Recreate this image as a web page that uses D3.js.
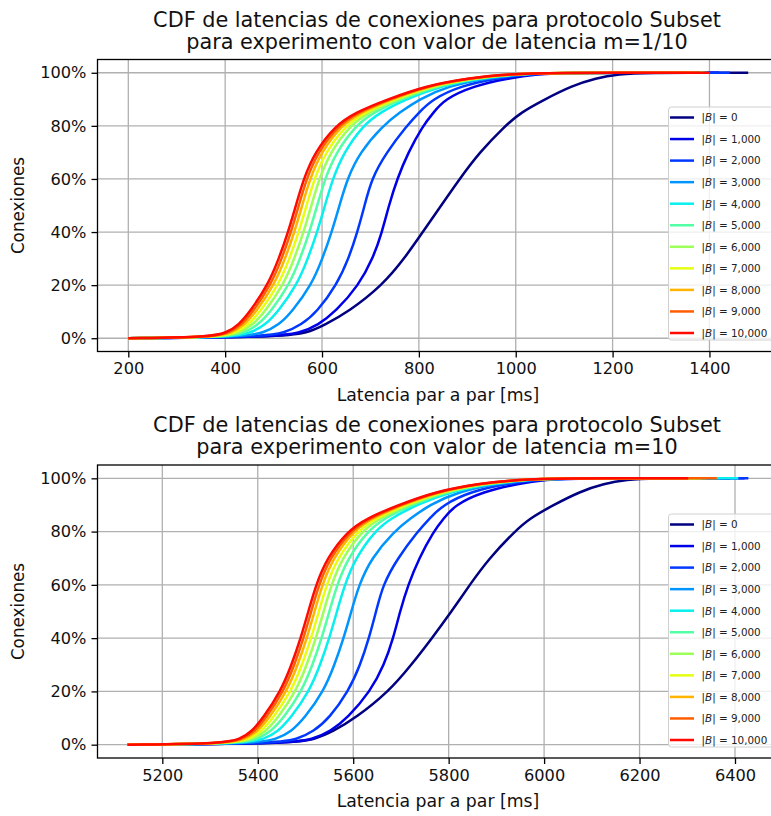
<!DOCTYPE html>
<html>
<head>
<meta charset="utf-8">
<script src="https://cdn.jsdelivr.net/npm/d3@7"></script>
<style>
  body { margin: 0; background: #fff; }
  svg { font-family: "DejaVu Sans", sans-serif; display: block; }
</style>
</head>
<body>
<div id="chart"></div>
<script>
// |B| values, one curve each
const bLabels = ["0", "1,000", "2,000", "3,000", "4,000", "5,000", "6,000", "7,000", "8,000", "9,000", "10,000"];
const lineColors = ["#000080", "#0000e8", "#0038ff", "#0094ff", "#08f0ee", "#52ffa4",
                    "#9cff5a", "#e6ff10", "#ffb400", "#ff5e00", "#ff0900"];

// CDF levels at which the latency of each curve was read
const cdfLevels = [0, 0.005, 0.02, 0.05, 0.1, 0.2, 0.3, 0.4, 0.5, 0.6, 0.7, 0.8, 0.85, 0.9, 0.95, 0.98, 0.995, 1];
const yTicks = [0, 0.2, 0.4, 0.6, 0.8, 1];

// m = 1/10
const xTicksTop = [200, 400, 600, 800, 1000, 1200, 1400];
const latencyTop = [
  [200, 515, 570, 605, 655, 725, 770, 808, 846, 884, 925, 978, 1010, 1060, 1115, 1165, 1215, 1260],
  [200, 505, 555, 592, 628, 676, 705, 724, 738, 755, 778, 808, 830, 853, 912, 986, 1047, 1098],
  [200, 478, 522, 557, 590, 630, 655, 673, 688, 702, 733, 775, 800, 828, 885, 962, 1031, 1088],
  [200, 438, 479, 511, 538, 578, 601, 620, 636, 652, 678, 725, 760, 800, 860, 941, 1017, 1078],
  [200, 415, 453, 483, 509, 548, 571, 590, 606, 622, 645, 684, 719, 772, 844, 927, 1008, 1072],
  [200, 403, 439, 468, 494, 532, 555, 574, 590, 606, 629, 669, 705, 762, 836, 920, 1003, 1069],
  [200, 394, 429, 457, 482, 520, 543, 562, 578, 594, 617, 657, 695, 755, 830, 914, 1000, 1066],
  [200, 386, 421, 448, 472, 510, 533, 552, 568, 584, 607, 648, 687, 749, 824, 910, 997, 1064],
  [200, 380, 413, 440, 464, 501, 524, 543, 559, 575, 598, 639, 679, 743, 820, 906, 994, 1063],
  [200, 374, 407, 434, 457, 494, 517, 536, 552, 568, 591, 633, 673, 739, 816, 903, 992, 1061],
  [200, 370, 402, 428, 451, 488, 511, 530, 546, 562, 585, 627, 668, 735, 813, 900, 990, 1060]
];
const lastTop = [1480, 1420, 1442, 1400, 1395, 1385, 1370, 1390, 1360, 1380, 1400];

// m = 10
const xTicksBottom = [5200, 5400, 5600, 5800, 6000, 6200, 6400];
const latencyBottom = [
  [5127, 5470, 5520, 5558, 5605, 5675, 5722, 5765, 5806, 5844, 5885, 5938, 5970, 6020, 6075, 6125, 6175, 6220],
  [5127, 5465, 5515, 5552, 5588, 5636, 5665, 5684, 5698, 5715, 5738, 5768, 5790, 5813, 5872, 5946, 6007, 6058],
  [5127, 5438, 5482, 5517, 5550, 5590, 5615, 5633, 5648, 5662, 5693, 5735, 5760, 5788, 5845, 5922, 5991, 6048],
  [5127, 5398, 5439, 5471, 5498, 5538, 5561, 5580, 5596, 5612, 5638, 5685, 5720, 5760, 5820, 5901, 5977, 6038],
  [5127, 5375, 5413, 5443, 5469, 5508, 5531, 5550, 5566, 5582, 5605, 5644, 5679, 5732, 5804, 5887, 5968, 6032],
  [5127, 5363, 5399, 5428, 5454, 5492, 5515, 5534, 5550, 5566, 5589, 5629, 5665, 5722, 5796, 5880, 5963, 6029],
  [5127, 5354, 5389, 5417, 5442, 5480, 5503, 5522, 5538, 5554, 5577, 5617, 5655, 5715, 5790, 5874, 5960, 6026],
  [5127, 5346, 5381, 5408, 5432, 5470, 5493, 5512, 5528, 5544, 5567, 5608, 5647, 5709, 5784, 5870, 5957, 6024],
  [5127, 5340, 5373, 5400, 5424, 5461, 5484, 5503, 5519, 5535, 5558, 5599, 5639, 5703, 5780, 5866, 5954, 6023],
  [5127, 5334, 5367, 5394, 5417, 5454, 5477, 5496, 5512, 5528, 5551, 5593, 5633, 5699, 5776, 5863, 5952, 6021],
  [5127, 5330, 5362, 5388, 5411, 5448, 5471, 5490, 5506, 5522, 5545, 5587, 5628, 5695, 5773, 5860, 5950, 6020]
];
const lastBottom = [6390, 6420, 6428, 6370, 6407, 6340, 6320, 6330, 6300, 6362, 6302];

const width = 771, height = 816;

const svg = d3.select("#chart")
    .append("svg")
    .attr("width", width)
    .attr("height", height);

function drawPanel(p) {
    const x = d3.scaleLinear().domain(p.xDomain).range([97.5, 779]);
    const y = d3.scaleLinear().domain([-0.05, 1.05]).range([p.bottom, p.top]);
    const g = svg.append("g");

    const clipId = "clip" + p.id;
    g.append("clipPath").attr("id", clipId)
      .append("rect")
        .attr("x", 97.5).attr("y", p.top)
        .attr("width", 779 - 97.5).attr("height", p.bottom - p.top);

    // grid
    g.append("g")
        .selectAll("line")
        .data(p.xTicks)
        .enter().append("line")
        .attr("x1", d => x(d)).attr("x2", d => x(d))
        .attr("y1", p.top).attr("y2", p.bottom)
        .attr("stroke", "#b0b0b0")
        .attr("stroke-width", 1.3);
    g.append("g")
        .selectAll("line")
        .data(yTicks)
        .enter().append("line")
        .attr("x1", 97.5).attr("x2", 779)
        .attr("y1", d => y(d)).attr("y2", d => y(d))
        .attr("stroke", "#b0b0b0")
        .attr("stroke-width", 1.3);

    // curves
    const line = d3.line()
        .x(d => x(d[0]))
        .y(d => y(d[1]))
        .curve(d3.curveBasis);

    const series = p.rows.map((row, i) => {
        const pts = row.map((v, j) => [v, cdfLevels[j]]);
        pts.push([p.last[i], 1]);
        return pts;
    });

    g.append("g")
        .attr("clip-path", `url(#${clipId})`)
        .selectAll("path")
        .data(series)
        .enter().append("path")
        .attr("d", line)
        .attr("fill", "none")
        .attr("stroke", (d, i) => lineColors[i])
        .attr("stroke-width", 2.5);

    // axes
    const xAxis = g.append("g")
        .attr("transform", `translate(0,${p.bottom})`)
        .call(d3.axisBottom(x).tickValues(p.xTicks).tickFormat(d3.format("d")).tickSizeOuter(0).tickSize(6).tickPadding(5));
    const yAxis = g.append("g")
        .attr("transform", "translate(97.5,0)")
        .call(d3.axisLeft(y).tickValues(yTicks).tickFormat(d3.format(".0%")).tickSizeOuter(0).tickSize(6).tickPadding(5));
    [xAxis, yAxis].forEach(a => {
        a.select(".domain").remove();
        a.selectAll("line").attr("stroke", "#000").attr("stroke-width", 1.3);
        a.selectAll("text")
            .attr("fill", "#111")
            .style("font-size", "16.2px")
            .style("font-family", "DejaVu Sans");
    });

    // frame
    g.append("rect")
        .attr("x", 97.5).attr("y", p.top)
        .attr("width", 779 - 97.5).attr("height", p.bottom - p.top)
        .attr("fill", "none")
        .attr("stroke", "#000")
        .attr("stroke-width", 1.3);

    // labels
    g.append("text")
        .attr("x", 438).attr("y", p.bottom + 49)
        .attr("text-anchor", "middle")
        .attr("fill", "#111")
        .style("font-size", "17.3px")
        .text("Latencia par a par [ms]");
    g.append("text")
        .attr("transform", `translate(24,${(p.top + p.bottom) / 2}) rotate(-90)`)
        .attr("text-anchor", "middle")
        .attr("fill", "#111")
        .style("font-size", "16.8px")
        .text("Conexiones");

    const title = g.append("text")
        .attr("text-anchor", "middle")
        .attr("fill", "#111")
        .style("font-size", "20.8px");
    title.append("tspan").attr("x", 437).attr("y", p.top - 33).text(p.title[0]);
    title.append("tspan").attr("x", 437).attr("y", p.top - 11).text(p.title[1]);

    // legend
    const lg = g.append("g");
    lg.append("rect")
        .attr("x", 668.5).attr("y", p.legendTop)
        .attr("width", 120).attr("height", 233)
        .attr("rx", 3)
        .attr("fill", "rgba(255,255,255,0.8)")
        .attr("stroke", "#d0d0d0")
        .attr("stroke-width", 1);
    const item = lg.selectAll("g.item")
        .data(bLabels)
        .enter().append("g")
        .attr("class", "item")
        .attr("transform", (d, i) => `translate(0,${p.legendTop + 10.5 + i * 21.55})`);
    item.append("line")
        .attr("x1", 670).attr("x2", 694)
        .attr("stroke", (d, i) => lineColors[i])
        .attr("stroke-width", 2.5);
    const lt = item.append("text")
        .attr("x", 701.5).attr("y", 3.8)
        .attr("fill", "#222")
        .style("font-size", "10.4px");
    lt.append("tspan").text("|");
    lt.append("tspan").style("font-style", "italic").text("B");
    lt.append("tspan").text(d => "| = " + d);
}

drawPanel({
    id: "top", top: 59.5, bottom: 351.5, legendTop: 107,
    xDomain: [136.4, 1543.6], xTicks: xTicksTop,
    rows: latencyTop, last: lastTop,
    title: ["CDF de latencias de conexiones para protocolo Subset",
            "para experimento con valor de latencia m=1/10"]
});
drawPanel({
    id: "bottom", top: 465, bottom: 758, legendTop: 514,
    xDomain: [5064.2, 6492.2], xTicks: xTicksBottom,
    rows: latencyBottom, last: lastBottom,
    title: ["CDF de latencias de conexiones para protocolo Subset",
            "para experimento con valor de latencia m=10"]
});
</script>
</body>
</html>
